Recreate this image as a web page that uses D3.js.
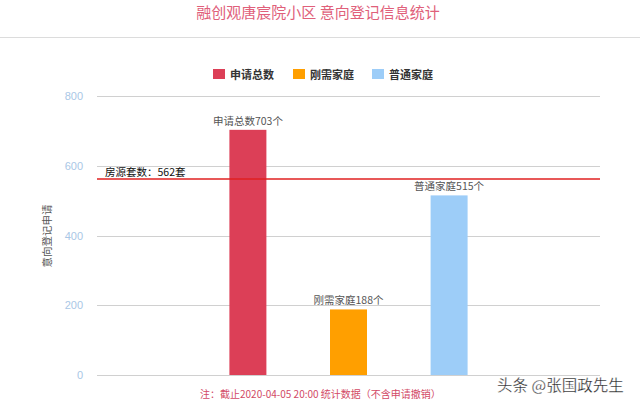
<!DOCTYPE html>
<html><head><meta charset="utf-8">
<script src="https://cdn.jsdelivr.net/npm/d3@7"></script>
<style>
html,body{margin:0;padding:0;background:#fff;}
svg{display:block;font-family:"Noto Sans CJK SC","Microsoft YaHei",sans-serif;}
</style></head>
<body>
<script>
const title = "融创观唐宸院小区 意向登记信息统计";
const categories = ["", "申请总数", "刚需家庭", "普通家庭", ""];
const seriesNames = ["申请总数", "刚需家庭", "普通家庭"];
const seriesValues = [703, 188, 515];
const seriesColors = ["#dc3f57", "#ff9f00", "#9dcdf8"];
const yTicks = [0, 200, 400, 600, 800];
const refValue = 562;
const refLabel = "房源套数：562套";
const yAxisTitle = "意向登记申请";
const note = "注：截止2020-04-05 20:00 统计数据（不含申请撤销）";
const watermark = "头条 @张国政先生";

const W = 640, H = 404;
const svg = d3.select("body").append("svg").attr("width", W).attr("height", H);

const x = d3.scaleBand().domain(categories.map((c,i)=>i)).range([97, 600]);
const y = d3.scaleLinear().domain([0, 800]).range([375, 96]);

// title
svg.append("text").attr("x", 318).attr("y", 18).attr("text-anchor","middle")
  .attr("font-size", 15).attr("fill", "#e0607a").text(title);
svg.append("line").attr("x1",0).attr("x2",W).attr("y1",37.5).attr("y2",37.5)
  .attr("stroke","#dcdcdc").attr("stroke-width",1);

// legend
const legX = [213, 293, 372];
seriesNames.forEach((n,i)=>{
  svg.append("rect").attr("x", legX[i]).attr("y", 69).attr("width", 12).attr("height", 10)
    .attr("fill", seriesColors[i]);
  svg.append("text").attr("x", legX[i]+17).attr("y", 78.5).attr("font-size", 11)
    .attr("font-weight","bold").attr("fill","#333").text(n);
});

// grid
const g = svg.append("g");
g.selectAll("line.grid").data(yTicks).join("line")
  .attr("x1", 97).attr("x2", 600)
  .attr("y1", d=>Math.round(y(d))+0.5).attr("y2", d=>Math.round(y(d))+0.5)
  .attr("stroke", "#d0d0d0").attr("stroke-width", 1);

// y axis labels
const yAxis = d3.axisLeft(y).tickValues(yTicks).tickSize(0).tickPadding(0);
const ya = svg.append("g").attr("transform","translate(83,0)").call(yAxis);
ya.select(".domain").remove();
ya.selectAll("text").attr("fill","#a9c7e6").attr("font-size",11)
  .attr("font-family","Arial, Liberation Sans, sans-serif");

// y axis title
svg.append("text").attr("transform","translate(51,236) rotate(-90)")
  .attr("text-anchor","middle").attr("font-size",10.5).attr("fill","#555").text(yAxisTitle);

// bars
const barW = 37;
seriesValues.forEach((v,i)=>{
  const cx = x(i+1) + x.bandwidth()/2;
  svg.append("rect").attr("x", cx - barW/2).attr("y", y(v))
    .attr("width", barW).attr("height", y(0) - y(v)).attr("fill", seriesColors[i]);
  svg.append("text").attr("x", cx).attr("y", y(v) - 5).attr("text-anchor","middle")
    .attr("font-size", 10.5).attr("fill","#555").text(seriesNames[i] + v + "个");
});

// reference line
svg.append("line").attr("x1",97).attr("x2",600).attr("y1",y(refValue)).attr("y2",y(refValue))
  .attr("stroke","#e02020").attr("stroke-width",1.6);
svg.append("text").attr("x",105).attr("y",y(refValue)-3).attr("font-size",10.5)
  .attr("fill","#111").text(refLabel);

// note
svg.append("text").attr("x",200).attr("y",398).attr("font-size",10)
  .attr("fill","#d24a66").text(note);

// watermark
svg.append("text").attr("x",497).attr("y",391).attr("font-size",15.5)
  .attr("fill","#222").attr("stroke","#fff").attr("stroke-width",0.3).text(watermark);
</script>
</body></html>
